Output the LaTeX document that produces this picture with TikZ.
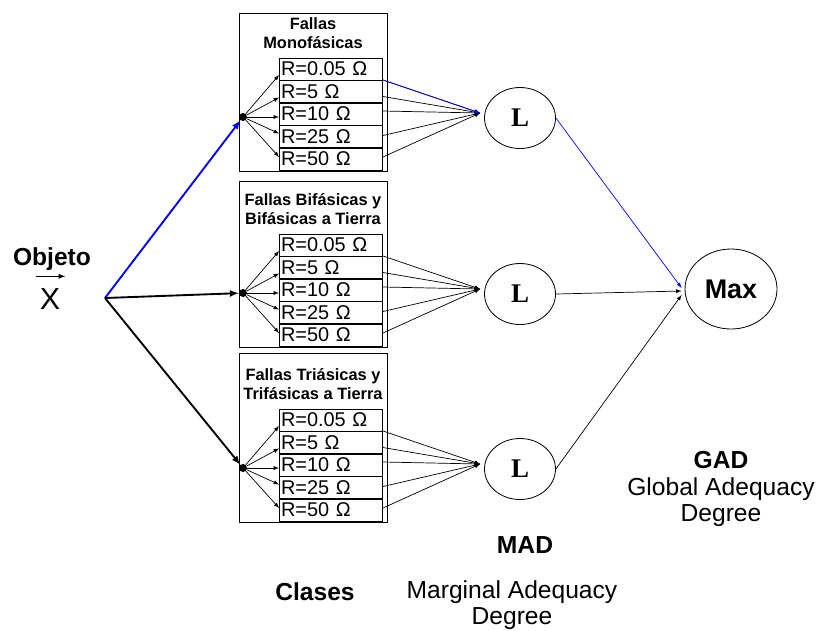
\documentclass[tikz,border=0pt]{standalone}
\usepackage{fontspec}
\setmainfont{Liberation Sans}
\newfontfamily\serifbf{Liberation Serif}
\usetikzlibrary{calc,shapes.geometric}
\definecolor{linkblue}{rgb}{0,0,1}

\begin{document}
\begin{tikzpicture}[>=latex,x=0.03cm,y=-0.03cm,
  frame/.style={line width=0.8pt},
  row/.style={draw,line width=0.8pt,rectangle,minimum width=3.09cm,minimum height=0.66cm,
    inner sep=1pt,text width=3.0cm,align=left,font=\fontsize{17}{17}\selectfont},
  title/.style={align=center,font=\bfseries\fontsize{14}{16.5}\selectfont},
  dot/.style={circle,fill,minimum size=0.24cm,inner sep=0pt},
  lnode/.style={draw,ellipse,line width=0.7pt,minimum width=2.13cm,minimum height=1.83cm,
    inner sep=0pt,font=\serifbf\bfseries\fontsize{23}{23}\selectfont},
  maxnode/.style={draw,ellipse,line width=0.7pt,minimum width=2.76cm,minimum height=2.4cm,
    inner sep=0pt,font=\bfseries\fontsize{23}{23}\selectfont},
  captxt/.style={align=center,font=\fontsize{21}{22}\selectfont},
  capbf/.style={font=\bfseries\fontsize{21}{22}\selectfont},
  thin line/.style={line width=0.6pt},
  thick line/.style={line width=1.6pt}]
\useasboundingbox (0,0) rectangle (820,630);

% clases de falla
\foreach \k/\o/\ft/\ta/\tb in {1/0/13/Fallas/Monofásicas,
    2/176/181/Fallas Bifásicas y/Bifásicas a Tierra,
    3/351/353/Fallas Triásicas y/Trifásicas a Tierra}{
  \pgfmathsetmacro\rt{58+\o}
  \draw[frame] (239,\ft) rectangle (387,\rt+113);
  \node[title] (t\k) at (313,\rt-25) {\ta\\\tb};
  \node[dot] (d\k) at (243,\rt+59) {};
  \node[lnode] (L\k) at (520,\rt+60) {L};
  \coordinate (in\k) at ($(L\k.west)+(-4,-5)$);
  \foreach \i/\r/\sa/\sb in {1/0.05/6/11,2/5/6/5,3/10/3/-3,4/25/-3/-1,5/50/-2/-2}{
    \node[row] (r\k\i) at (331,\rt+11+22.5*\i-22.5) {R=\r\ Ω};
    \draw[thin line,->] (d\k) -- ($(r\k\i.west)+(0,\sa)$);
    \draw[thin line,->] ($(r\k\i.east)+(0,\sb)$) -- (in\k);
  }
}
\draw[thin line,->,linkblue] ($(r11.east)+(0,11)$) -- (in1);

% objeto
\coordinate (obj) at (105,298);
\node[capbf] (objeto) at (52,259) {Objeto};
\node[font=\fontsize{26}{26}\selectfont,inner sep=0pt] (xvar) at (50,299) {X};
\draw[line width=1pt,->] ([shift={(-4,-12)}]xvar.north west) -- ([shift={(5,-12)}]xvar.north east);
\draw[thick line,->,linkblue] (obj) -- (d1);
\draw[thick line,->] (obj) -- (d2);
\draw[thick line,->] (obj) -- (d3);

% grado de adecuacion global
\node[maxnode] (mx) at (731,289) {Max};
\draw[thin line,->,linkblue] (L1.east) -- ($(mx.west)+(-3,-1)$);
\draw[thin line,->] (L2.east) -- ($(mx.west)+(-3,2)$);
\draw[thin line,->] (L3.east) -- ($(mx.west)+(-3,6)$);

% leyendas
\node[capbf] (gad) at (721,460) {GAD};
\node[captxt] (gadtxt) at (721,502) {Global Adequacy\\Degree};
\node[capbf] (mad) at (525,545) {MAD};
\node[captxt] (madtxt) at (512,605) {Marginal Adequacy\\Degree};
\node[capbf] (clases) at (315,592) {Clases};
\end{tikzpicture}
\end{document}
